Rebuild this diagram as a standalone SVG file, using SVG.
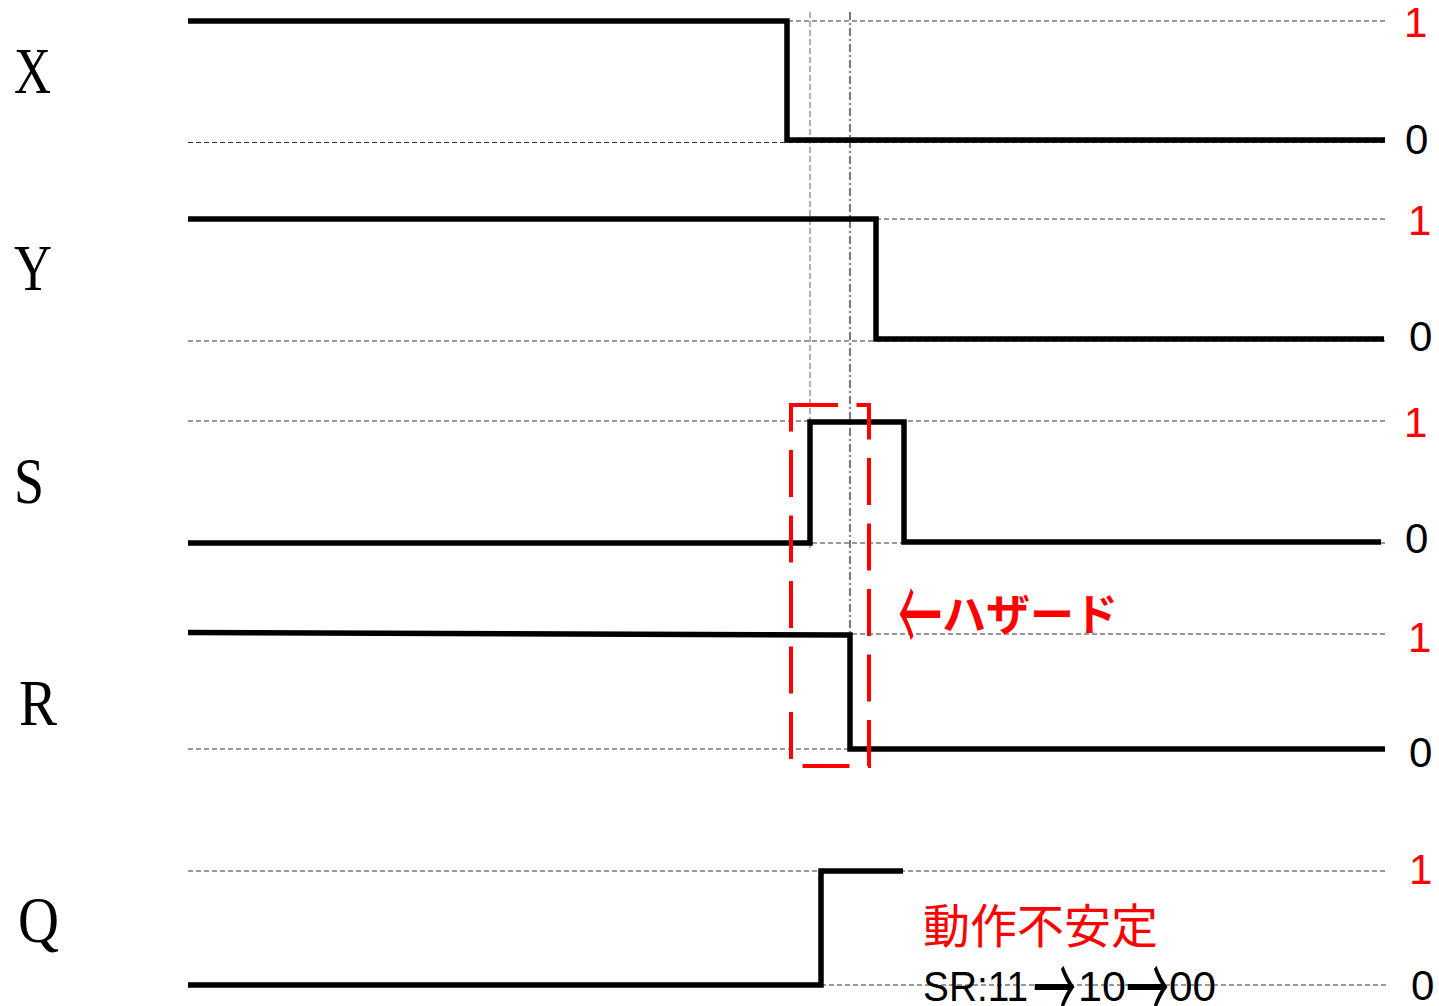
<svg xmlns="http://www.w3.org/2000/svg" width="1439" height="1006" viewBox="0 0 1439 1006">
<style>
.lbl{font-family:"Liberation Serif","Times New Roman",serif;font-size:65px;fill:#000}
.lvl{font-family:"Liberation Sans",Arial,sans-serif;font-size:42px}
.one{fill:#ff0000}
.zero{fill:#000}
.ref{stroke:#333;stroke-width:1.2;stroke-dasharray:5 3;fill:none}
.sig{stroke:#000;stroke-width:5.5;fill:none;stroke-linejoin:miter;stroke-linecap:butt}
.jp{font-family:"Noto Sans CJK JP","Noto Sans CJK SC",sans-serif;fill:#ff0000}
.sr{font-family:"Liberation Sans",Arial,sans-serif;font-size:43px;fill:#000}
.arr{font-family:"Noto Sans CJK JP","Noto Sans CJK SC",sans-serif;font-size:43px;fill:#000}
</style>
<rect width="1439" height="1006" fill="#fff"/>
<g id="guides">
<line class="ref" x1="188" y1="21" x2="1387" y2="21"/>
<line class="ref" x1="188" y1="142.5" x2="1387" y2="142.5"/>
<line class="ref" x1="188" y1="219" x2="1387" y2="219"/>
<line class="ref" x1="188" y1="341" x2="1387" y2="341"/>
<line class="ref" x1="188" y1="421" x2="1387" y2="421"/>
<line class="ref" x1="188" y1="543" x2="1387" y2="543"/>
<line class="ref" x1="188" y1="634" x2="1387" y2="634"/>
<line class="ref" x1="188" y1="749" x2="1387" y2="749"/>
<line class="ref" x1="188" y1="871" x2="1387" y2="871"/>
<line class="ref" x1="821" y1="985" x2="1387" y2="985"/>
<line x1="810" y1="12" x2="810" y2="548" stroke="#888" stroke-width="1.3" stroke-dasharray="6 3"/>
<line x1="850" y1="12" x2="850" y2="633" stroke="#222" stroke-width="1.2" stroke-dasharray="8 3 2 3"/>
</g>
<g id="connectors">
<polyline id="sigX" class="sig" points="188,21 787,21 787,140 1385,140"/>
<polyline id="sigY" class="sig" points="188,219 876,219 876,339 1384,339"/>
<polyline id="sigS" class="sig" points="188,543 810,543 810,422 904,422 904,542 1381,542"/>
<polyline id="sigR" class="sig" points="188,632.5 850,635 850,749 1385,749"/>
<polyline id="sigQ" class="sig" points="188,985 821,985 821,871 903,871"/>
</g>
<g id="hazard-box">
<rect x="791" y="405" width="78" height="361" fill="none" stroke="#ff0000" stroke-width="4" stroke-dasharray="47 18.5"/>
</g>
<g id="labels">
<text class="lbl" x="14" y="93" textLength="37" lengthAdjust="spacingAndGlyphs">X</text>
<text class="lbl" x="14" y="290" textLength="38" lengthAdjust="spacingAndGlyphs">Y</text>
<text class="lbl" x="14" y="503" textLength="30" lengthAdjust="spacingAndGlyphs">S</text>
<text class="lbl" x="19" y="725" textLength="38" lengthAdjust="spacingAndGlyphs">R</text>
<text class="lbl" x="18" y="942" textLength="41" lengthAdjust="spacingAndGlyphs">Q</text>
</g>
<g id="levels">
<text class="lvl one" x="1404" y="37">1</text>
<text class="lvl zero" x="1405" y="154">0</text>
<text class="lvl one" x="1408" y="235">1</text>
<text class="lvl zero" x="1409" y="351">0</text>
<text class="lvl one" x="1404" y="437">1</text>
<text class="lvl zero" x="1405" y="553">0</text>
<text class="lvl one" x="1408" y="652">1</text>
<text class="lvl zero" x="1409" y="767">0</text>
<text class="lvl one" x="1409" y="884">1</text>
<text class="lvl zero" x="1411" y="1000">0</text>
</g>
<g id="hazard-note">
<text class="jp" font-size="44" transform="translate(898,615) scale(1,2.5)" y="16.5">←</text>
<text class="jp" x="942" y="631" font-size="44" font-weight="bold">ハザード</text>
</g>
<g id="unstable-note">
<text class="jp" x="923" y="943" font-size="47">動作不安定</text>
<text class="sr" x="923" y="1001" textLength="105" lengthAdjust="spacingAndGlyphs">SR:11</text>
<text class="arr" transform="translate(1033,987) scale(1,2.1)" y="16.1">→</text>
<text class="sr" x="1078" y="1001" textLength="48" lengthAdjust="spacingAndGlyphs">10</text>
<text class="arr" transform="translate(1126,987) scale(1,2.1)" y="16.1">→</text>
<text class="sr" x="1169" y="1001" textLength="47" lengthAdjust="spacingAndGlyphs">00</text>
</g>
</svg>
